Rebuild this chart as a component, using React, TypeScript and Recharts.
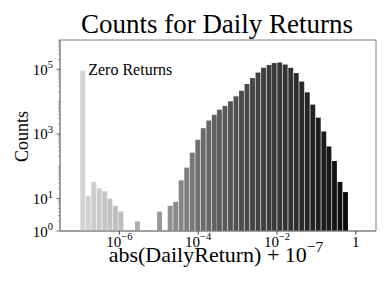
import React from 'react';
import { ComposedChart, Bar, XAxis, YAxis, Cell, LabelList, ReferenceArea } from 'recharts';

// Bin centres, as log10(abs(DailyReturn) + 1e-7)
const BIN_CENTERS_LOG10 = [
  -6.93, -6.79, -6.65, -6.51, -6.37, -6.24, -6.10, -5.96, -5.82, -5.68,
  -5.54, -5.40, -5.26, -5.12, -4.98, -4.85, -4.71, -4.57, -4.43, -4.29,
  -4.15, -4.01, -3.87, -3.73, -3.59, -3.46, -3.32, -3.18, -3.04, -2.90,
  -2.76, -2.62, -2.48, -2.34, -2.20, -2.07, -1.93, -1.79, -1.65, -1.51,
  -1.37, -1.23, -1.09, -0.95, -0.81, -0.68, -0.54, -0.40, -0.26, -0.12,
];

// Counts per bin (null = empty bin)
const COUNTS: (number | null)[] = [
  90000, 12, 33, 21, 17, 10, 6, 4, null, null,
  2, null, null, 1, 4, null, 6, 8, 37, 91,
  265, 662, 1510, 2600, 3890, 5650, 7380, 10200, 14500, 21800,
  35000, 53500, 79500, 112000, 135000, 155000, 162000, 141000, 112000, 76000,
  42000, 19300, 8100, 3200, 1200, 413, 146, 33, 16, 1,
];

const X_TICKS = [-6, -4, -2, 0];
const X_DOMAIN: [number, number] = [-7.508, 0.513];
const Y_TICKS = [1, 10, 1000, 100000];
const Y_DOMAIN: [number, number] = [1, 800000];
const TITLE = 'Counts for Daily Returns';
const X_LABEL = 'abs(DailyReturn) + 10';
const X_LABEL_SUP = '\u22127';
const Y_LABEL = 'Counts';
const ANNOTATION = 'Zero Returns';

const SERIF = '"Liberation Serif", "Times New Roman", serif';
const AXIS_GREY = '#808080';

// grey ramp (style): [bin index, grey level]
const GREY_STOPS: [number, number][] = [
  [0, 212], [7, 188], [10, 172], [14, 152], [18, 132], [21, 112],
  [25, 92], [30, 72], [33, 62], [38, 48], [41, 36], [45, 24], [49, 6],
];
const greyFor = (i: number) => {
  for (let k = 1; k < GREY_STOPS.length; k++) {
    const [i0, g0] = GREY_STOPS[k - 1];
    const [i1, g1] = GREY_STOPS[k];
    if (i <= i1) {
      const g = Math.round(g0 + ((g1 - g0) * (i - i0)) / (i1 - i0));
      return `rgb(${g},${g},${g})`;
    }
  }
  return 'rgb(0,0,0)';
};

const data = BIN_CENTERS_LOG10.map((c, i) => ({ x: c, count: COUNTS[i] }));

const Y_ALL_TICKS: number[] = [];
for (let k = 0; k <= 5; k++) {
  for (let m = 1; m <= 9; m++) {
    const v = m * Math.pow(10, k);
    if (v <= Y_DOMAIN[1]) Y_ALL_TICKS.push(v);
  }
}

const YTick = (props: any) => {
  const { x, y, payload } = props;
  const v = payload.value;
  const isMajor = Y_TICKS.includes(v);
  const exp = Math.round(Math.log10(v));
  return (
    <g>
      <line x1={x} x2={x - (isMajor ? 3.5 : 2)} y1={y} y2={y} stroke={isMajor ? '#444' : '#777'} strokeWidth={isMajor ? 0.8 : 0.6} />
      {isMajor && (
        <text x={x - 7} y={y + 5.5} textAnchor="end" fontFamily={SERIF} fontSize={15} fill="#000">
          <tspan>10</tspan>
          <tspan dy={-6.5} fontSize={10.5}>{String(exp)}</tspan>
        </text>
      )}
    </g>
  );
};

const XTick = (props: any) => {
  const { x, y, payload } = props;
  const exp = Math.round(payload.value);
  if (exp === 0) {
    return (
      <text x={x} y={y + 9} textAnchor="middle" fontFamily={SERIF} fontSize={15} fill="#000">1</text>
    );
  }
  return (
    <text x={x} y={y + 9} textAnchor="middle" fontFamily={SERIF} fontSize={15} fill="#000">
      <tspan>10</tspan>
      <tspan dy={-7} fontSize={10.5}>{'\u2212' + String(Math.abs(exp))}</tspan>
    </text>
  );
};

const renderZeroLabel = (props: any) => {
  const { x, y, width, index, value } = props;
  const isFirst = index === 0 || (index === undefined && value === COUNTS[0]);
  if (!isFirst) return null;
  return (
    <text x={Number(x) + Number(width) + 3} y={Number(y) + 4.5} fontFamily={SERIF} fontSize={16} fill="#000">
      {ANNOTATION}
    </text>
  );
};

export default function App() {
  return (
    <div style={{ position: 'absolute', left: 0, top: 0, width: 390, height: 293, background: '#fff' }}>
      <ComposedChart
        width={390}
        height={293}
        data={data}
        margin={{ top: 40, right: 14, bottom: 0, left: 0 }}
        barCategoryGap={0}
        barGap={0}
      >
        <XAxis
          dataKey="x"
          type="number"
          domain={X_DOMAIN}
          allowDataOverflow
          ticks={X_TICKS}
          tick={<XTick />}
          tickSize={3.5}
          tickMargin={3.5}
          tickLine={{ stroke: '#444' }}
          axisLine={{ stroke: AXIS_GREY }}
          height={62}
          interval={0}
        />
        <YAxis
          scale="log"
          domain={Y_DOMAIN}
          allowDataOverflow
          ticks={Y_ALL_TICKS}
          tick={<YTick />}
          tickSize={0}
          tickMargin={0}
          tickLine={false}
          axisLine={{ stroke: AXIS_GREY }}
          width={60}
          interval={0}
        />
        <ReferenceArea
          x1={X_DOMAIN[0]}
          x2={X_DOMAIN[1]}
          y1={Y_DOMAIN[0]}
          y2={Y_DOMAIN[1]}
          fill="none"
          stroke={AXIS_GREY}
          strokeWidth={1}
          ifOverflow="visible"
        />
        <Bar
          dataKey="count"
          isAnimationActive={false}
          stroke="#ffffff"
          strokeOpacity={0.22}
          strokeWidth={0.6}
        >
          {data.map((_, i) => (
            <Cell key={`c-${i}`} fill={greyFor(i)} />
          ))}
          <LabelList dataKey="count" content={renderZeroLabel} />
        </Bar>
        <text x={217} y={33} textAnchor="middle" fontFamily={SERIF} fontSize={27} fill="#000">
          {TITLE}
        </text>
        <text
          x={28}
          y={136.5}
          textAnchor="middle"
          transform="rotate(-90 28 136.5)"
          fontFamily={SERIF}
          fontSize={18}
          fill="#000"
        >
          {Y_LABEL}
        </text>
        <text x={216} y={262} textAnchor="middle" fontFamily={SERIF} fontSize={22} fill="#000">
          <tspan>{X_LABEL}</tspan>
          <tspan dy={-10} fontSize={15.5}>{X_LABEL_SUP}</tspan>
        </text>
      </ComposedChart>
    </div>
  );
}
